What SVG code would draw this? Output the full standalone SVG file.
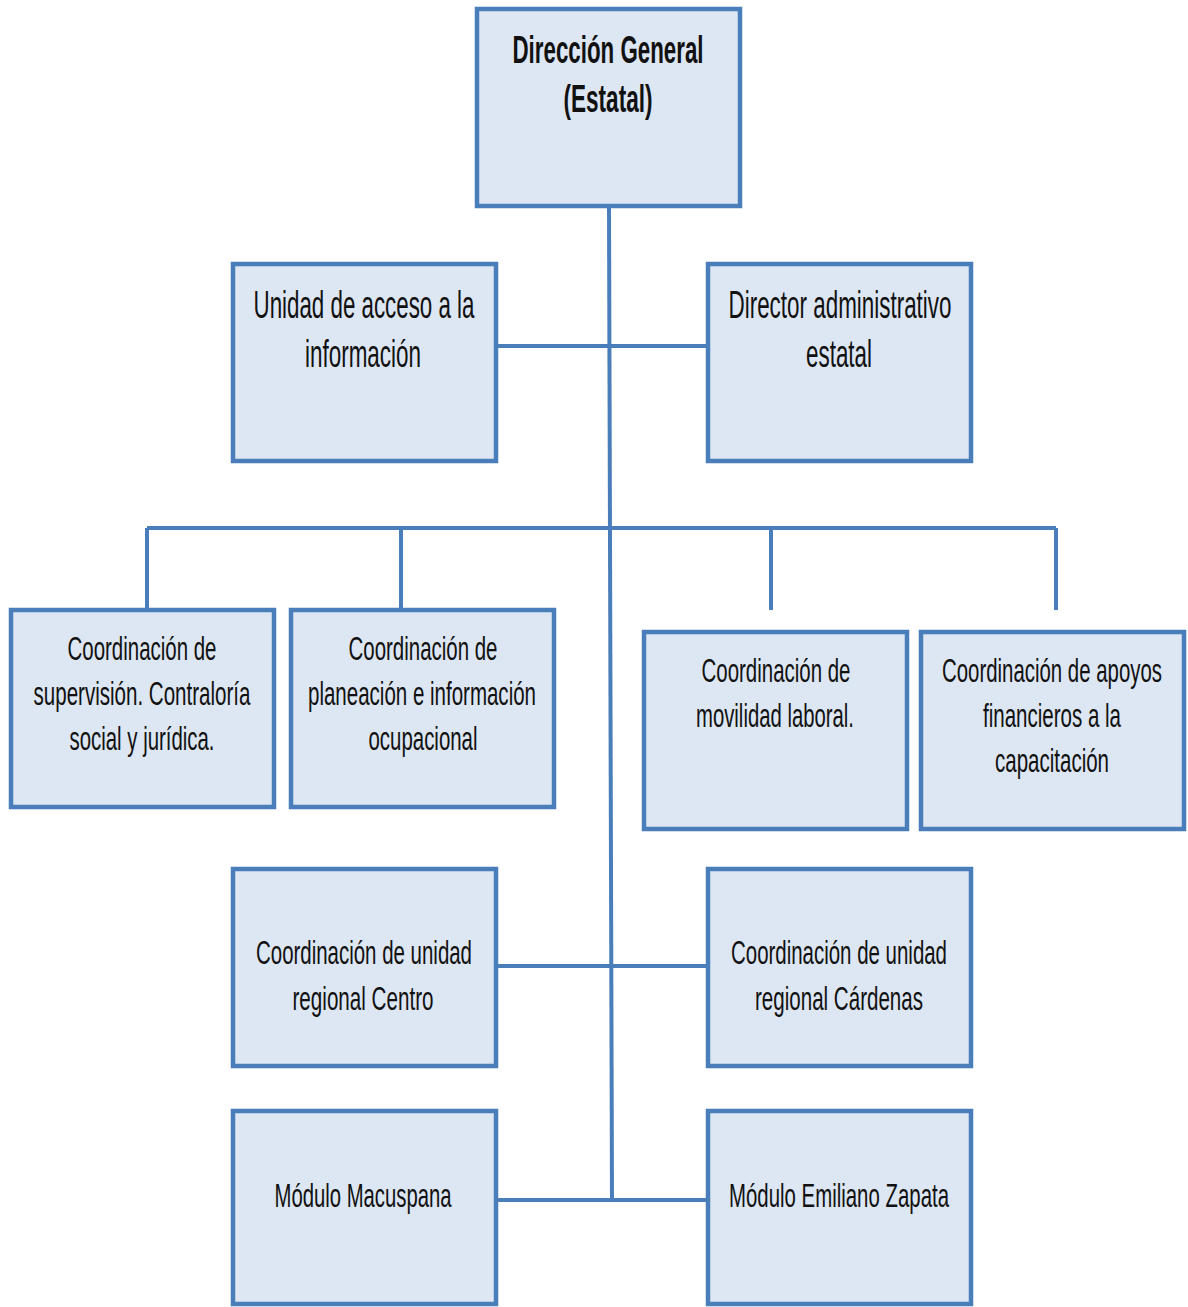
<svg xmlns="http://www.w3.org/2000/svg" width="1188" height="1307" viewBox="0 0 1188 1307">
<style>
.box{fill:#dde7f3;stroke:#4a7ebb;stroke-width:4.5}
.ln{stroke:#4a7ebb;stroke-width:4;fill:none}
text{font-family:"Liberation Sans",Arial,sans-serif;fill:#111;text-anchor:middle}
.t{font-size:38px}
.s{font-size:34px}
.b{font-size:38px;font-weight:bold}
</style>
<rect width="1188" height="1307" fill="#ffffff"/>
<g id="connectors">
<path class="ln" d="M609 207 L612 1200"/>
<path class="ln" d="M496 346 H707"/>
<path class="ln" d="M147 528 H1056"/>
<path class="ln" d="M147 528 V609 M401 528 V609 M771 528 V610 M1056 528 V610"/>
<path class="ln" d="M496 966 H707"/>
<path class="ln" d="M496 1200 H707"/>
</g>
<g id="direccion-general">
<rect class="box" x="477" y="9" width="263" height="197"/>
<text class="b" x="608" y="63" textLength="191" lengthAdjust="spacingAndGlyphs">Dirección General</text>
<text class="b" x="608" y="112" textLength="89" lengthAdjust="spacingAndGlyphs">(Estatal)</text>
</g>
<g id="unidad-acceso">
<rect class="box" x="233" y="264" width="263" height="197"/>
<text class="t" x="364" y="318" textLength="221" lengthAdjust="spacingAndGlyphs">Unidad de acceso a la</text>
<text class="t" x="363" y="367" textLength="116" lengthAdjust="spacingAndGlyphs">información</text>
</g>
<g id="director-administrativo">
<rect class="box" x="708" y="264" width="263" height="197"/>
<text class="t" x="840" y="318" textLength="223" lengthAdjust="spacingAndGlyphs">Director administrativo</text>
<text class="t" x="839" y="367" textLength="66" lengthAdjust="spacingAndGlyphs">estatal</text>
</g>
<g id="coord-supervision">
<rect class="box" x="11" y="610" width="263" height="197"/>
<text class="s" x="142" y="660" textLength="149" lengthAdjust="spacingAndGlyphs">Coordinación de</text>
<text class="s" x="142" y="705" textLength="217" lengthAdjust="spacingAndGlyphs">supervisión. Contraloría</text>
<text class="s" x="142" y="750" textLength="145" lengthAdjust="spacingAndGlyphs">social y jurídica.</text>
</g>
<g id="coord-planeacion">
<rect class="box" x="291" y="610" width="263" height="197"/>
<text class="s" x="423" y="660" textLength="149" lengthAdjust="spacingAndGlyphs">Coordinación de</text>
<text class="s" x="422" y="705" textLength="228" lengthAdjust="spacingAndGlyphs">planeación e información</text>
<text class="s" x="423" y="750" textLength="109" lengthAdjust="spacingAndGlyphs">ocupacional</text>
</g>
<g id="coord-movilidad">
<rect class="box" x="644" y="632" width="263" height="197"/>
<text class="s" x="776" y="682" textLength="149" lengthAdjust="spacingAndGlyphs">Coordinación de</text>
<text class="s" x="775" y="727" textLength="158" lengthAdjust="spacingAndGlyphs">movilidad laboral.</text>
</g>
<g id="coord-apoyos">
<rect class="box" x="921" y="632" width="263" height="197"/>
<text class="s" x="1052" y="682" textLength="220" lengthAdjust="spacingAndGlyphs">Coordinación de apoyos</text>
<text class="s" x="1052" y="727" textLength="138" lengthAdjust="spacingAndGlyphs">financieros a la</text>
<text class="s" x="1052" y="772" textLength="114" lengthAdjust="spacingAndGlyphs">capacitación</text>
</g>
<g id="coord-centro">
<rect class="box" x="233" y="869" width="263" height="197"/>
<text class="s" x="364" y="964" textLength="216" lengthAdjust="spacingAndGlyphs">Coordinación de unidad</text>
<text class="s" x="363" y="1010" textLength="141" lengthAdjust="spacingAndGlyphs">regional Centro</text>
</g>
<g id="coord-cardenas">
<rect class="box" x="708" y="869" width="263" height="197"/>
<text class="s" x="839" y="964" textLength="216" lengthAdjust="spacingAndGlyphs">Coordinación de unidad</text>
<text class="s" x="839" y="1010" textLength="168" lengthAdjust="spacingAndGlyphs">regional Cárdenas</text>
</g>
<g id="modulo-macuspana">
<rect class="box" x="233" y="1111" width="263" height="193"/>
<text class="s" x="363" y="1207" textLength="177" lengthAdjust="spacingAndGlyphs">Módulo Macuspana</text>
</g>
<g id="modulo-emiliano-zapata">
<rect class="box" x="708" y="1111" width="263" height="193"/>
<text class="s" x="839" y="1207" textLength="220" lengthAdjust="spacingAndGlyphs">Módulo Emiliano Zapata</text>
</g>
</svg>
